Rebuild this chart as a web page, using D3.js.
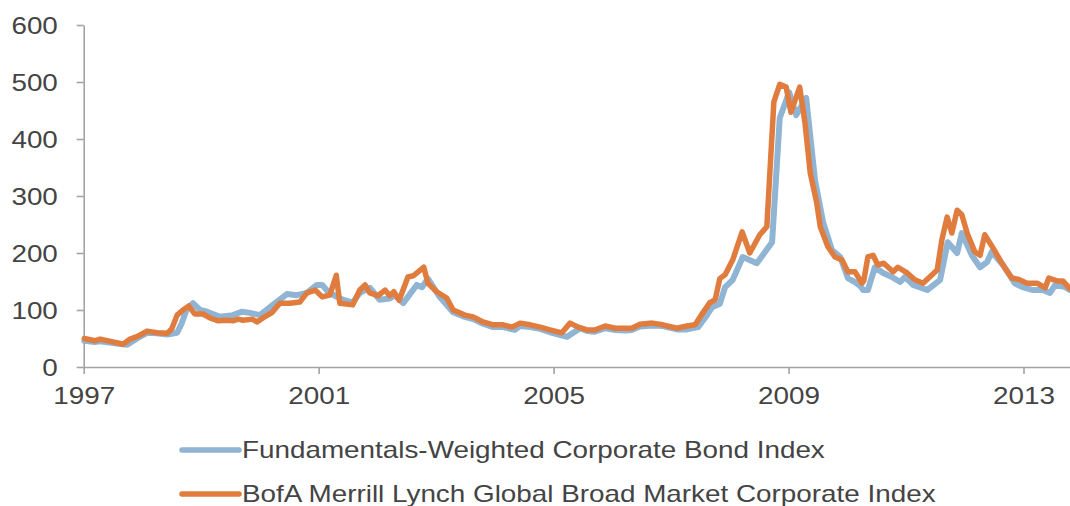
<!DOCTYPE html>
<html>
<head>
<meta charset="utf-8">
<script src="https://cdn.jsdelivr.net/npm/d3@7"></script>
<style>
  html, body { margin: 0; padding: 0; background: #fff; }
  svg { display: block; font-family: "Liberation Sans", Arial, sans-serif; }
</style>
</head>
<body>
<svg id="chart" width="1070" height="506"></svg>
<script>
// ---- data (decimal year, index level) ----
const fwDates = [1997.01,1997.19,1997.28,1997.50,1997.74,1997.92,1998.08,1998.25,1998.42,1998.59,1998.67,1998.76,1998.86,1998.98,1999.10,1999.32,1999.54,1999.69,1999.83,2000.00,2000.22,2000.46,2000.63,2000.80,2000.97,2001.06,2001.16,2001.31,2001.41,2001.58,2001.70,2001.87,2002.04,2002.21,2002.30,2002.44,2002.67,2002.76,2002.86,2003.06,2003.29,2003.49,2003.63,2003.80,2003.97,2004.14,2004.34,2004.43,2004.60,2004.77,2004.94,2005.23,2005.45,2005.57,2005.70,2005.88,2006.05,2006.22,2006.33,2006.47,2006.68,2006.86,2007.10,2007.27,2007.46,2007.61,2007.70,2007.83,2007.92,2008.05,2008.22,2008.46,2008.72,2008.85,2009.01,2009.13,2009.30,2009.45,2009.59,2009.74,2009.88,2010.01,2010.13,2010.22,2010.27,2010.35,2010.47,2010.61,2010.76,2010.90,2010.98,2011.12,2011.36,2011.58,2011.71,2011.87,2011.95,2012.12,2012.26,2012.38,2012.46,2012.65,2012.85,2012.99,2013.16,2013.33,2013.45,2013.54,2013.71,2013.79];
const fwValues = [46,44,45,42,39,51,60,59,57,60,77,103,112,100,97,88,91,97,95,91,109,128,126,130,144,144,132,123,118,113,130,139,118,120,126,112,144,140,155,123,96,88,84,76,70,70,65,72,70,67,61,53,68,63,62,68,65,64,65,71,73,72,66,66,70,91,105,111,140,153,193,182,219,437,482,442,472,328,253,205,193,156,149,142,135,135,175,165,158,149,158,144,135,153,219,200,235,196,175,184,202,179,147,140,135,135,130,144,140,135];

const bofaDates = [1997.01,1997.19,1997.28,1997.50,1997.67,1997.79,1997.92,1998.08,1998.25,1998.42,1998.50,1998.59,1998.69,1998.79,1998.89,1999.03,1999.15,1999.29,1999.44,1999.54,1999.63,1999.71,1999.87,1999.95,2000.05,2000.21,2000.34,2000.51,2000.68,2000.80,2000.94,2001.06,2001.19,2001.30,2001.36,2001.58,2001.70,2001.79,2001.87,2002.01,2002.13,2002.21,2002.28,2002.37,2002.52,2002.61,2002.73,2002.79,2002.86,2003.01,2003.18,2003.29,2003.49,2003.63,2003.80,2003.97,2004.14,2004.29,2004.43,2004.60,2004.77,2004.94,2005.14,2005.28,2005.42,2005.57,2005.70,2005.88,2006.05,2006.22,2006.33,2006.47,2006.68,2006.86,2007.10,2007.27,2007.41,2007.54,2007.66,2007.75,2007.83,2007.92,2008.05,2008.21,2008.34,2008.51,2008.63,2008.75,2008.85,2008.96,2009.04,2009.19,2009.28,2009.37,2009.48,2009.54,2009.67,2009.79,2009.91,2010.01,2010.13,2010.25,2010.28,2010.35,2010.44,2010.52,2010.62,2010.78,2010.86,2011.02,2011.15,2011.29,2011.53,2011.61,2011.70,2011.78,2011.87,2011.95,2012.04,2012.17,2012.26,2012.34,2012.48,2012.65,2012.80,2012.91,2013.06,2013.23,2013.37,2013.43,2013.57,2013.67,2013.79];
const bofaValues = [50,46,49,44,40,49,54,63,60,59,67,91,100,107,93,93,86,81,82,81,84,82,84,79,86,96,112,112,114,130,135,123,126,161,112,109,135,144,130,125,135,125,132,117,158,160,170,175,147,132,121,100,91,88,79,74,74,70,77,74,70,65,60,77,70,65,65,72,68,68,68,75,77,74,68,72,74,95,113,118,155,162,188,237,200,232,246,465,496,491,447,491,428,340,288,246,211,193,188,167,167,147,151,193,196,179,182,167,175,165,153,147,170,223,263,235,275,267,235,202,196,232,209,179,156,154,147,147,139,156,151,151,137];

const yTicks = [0, 100, 200, 300, 400, 500, 600];
const xTicks = [1997, 2001, 2005, 2009, 2013];
const seriesNames = ["Fundamentals-Weighted Corporate Bond Index",
                     "BofA Merrill Lynch Global Broad Market Corporate Index"];
const seriesColors = ["#8fb4d4", "#e07c3e"];

(function () {
  const svg = d3.select("#chart");
  const W = 1070;
  const plotLeft = 83.7, plotTop = 25, plotBottom = 367;
  const axisColor = "#a3a3a3", textColor = "#444";
  const stretch = 1.16;

  const x = d3.scaleLinear().domain([1997, 2013]).range([plotLeft, 1023.5]);
  const y = d3.scaleLinear().domain([0, 600]).range([plotBottom, plotTop]);

  // y axis
  const gy = svg.append("g").attr("transform", `translate(${plotLeft},0)`)
    .call(d3.axisLeft(y).tickValues(yTicks).tickSize(7).tickSizeOuter(0).tickFormat(d3.format("d")));
  gy.select(".domain").attr("stroke", axisColor).attr("stroke-width", 1.6);
  gy.selectAll(".tick line").attr("stroke", axisColor).attr("stroke-width", 1.6);
  gy.selectAll(".tick text")
    .attr("x", -22.3).attr("dy", "0.35em")
    .attr("transform", `scale(${stretch},1)`)
    .attr("fill", textColor).style("font-size", "24px")
    .style("font-family", '"Liberation Sans", Arial, sans-serif');

  // x axis
  const gx = svg.append("g").attr("transform", `translate(0,${plotBottom})`)
    .call(d3.axisBottom(x).tickValues(xTicks).tickSize(7).tickSizeOuter(0).tickFormat(d3.format("d")));
  gx.select(".domain").attr("d", `M${plotLeft},0.5H${W}`).attr("stroke", axisColor).attr("stroke-width", 1.6);
  gx.selectAll(".tick line").attr("stroke", axisColor).attr("stroke-width", 1.6);
  gx.selectAll(".tick text")
    .attr("y", 37).attr("dy", 0)
    .attr("transform", `scale(${stretch},1)`)
    .attr("fill", textColor).style("font-size", "24px")
    .style("font-family", '"Liberation Sans", Arial, sans-serif');

  // lines
  const line = d3.line().x(d => x(d[0])).y(d => y(d[1]));
  const fwData = fwDates.map((d, i) => [d, fwValues[i]]);
  const bofaData = bofaDates.map((d, i) => [d, bofaValues[i]]);

  svg.append("path").datum(fwData).attr("d", line)
    .attr("fill", "none").attr("stroke", seriesColors[0]).attr("stroke-width", 6)
    .attr("stroke-linejoin", "round").attr("stroke-linecap", "round");
  svg.append("path").datum(bofaData).attr("d", line)
    .attr("fill", "none").attr("stroke", seriesColors[1]).attr("stroke-width", 5.5)
    .attr("stroke-linejoin", "round").attr("stroke-linecap", "round");

  // legend
  const legendY = [450, 494];
  const lg = svg.append("g");
  seriesNames.forEach((name, i) => {
    lg.append("line").attr("x1", 182).attr("x2", 239)
      .attr("y1", legendY[i]).attr("y2", legendY[i])
      .attr("stroke", seriesColors[i]).attr("stroke-width", 5.5).attr("stroke-linecap", "round");
    lg.append("text")
      .attr("x", 242 / stretch).attr("y", legendY[i]).attr("dy", "0.35em")
      .attr("transform", `scale(${stretch},1)`)
      .attr("fill", textColor).style("font-size", "24px")
      .text(name);
  });
})();
</script>
</body>
</html>
